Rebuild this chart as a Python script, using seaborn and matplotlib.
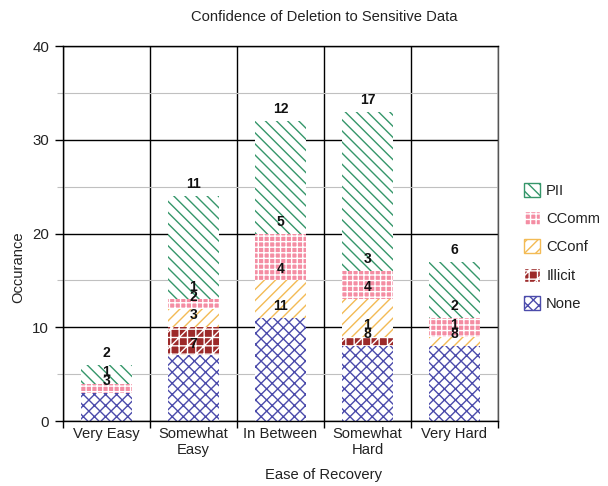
import numpy as np
import matplotlib
matplotlib.use("Agg")
import matplotlib.pyplot as plt
from matplotlib.patches import Patch
from matplotlib.ticker import MultipleLocator, FixedLocator
import seaborn as sns

categories = ["Very Easy", "Somewhat\nEasy", "In Between", "Somewhat\nHard", "Very Hard"]
none_vals = [3, 7, 11, 8, 8]
illicit_vals = [0, 3, 0, 1, 0]
cconf_vals = [0, 2, 4, 4, 1]
ccomm_vals = [1, 1, 5, 3, 2]
pii_vals = [2, 11, 12, 17, 6]

series = ["None", "Illicit", "CConf", "CComm", "PII"]
valores = [none_vals, illicit_vals, cconf_vals, ccomm_vals, pii_vals]

# face, hatch colour, hatch
estilos = {
    "None": ("white", "#4b4bab", "xxx"),
    "Illicit": ("#9c2a2a", "white", "++//"),
    "CConf": ("white", "#f3bb55", "///"),
    "CComm": ("#f48da3", "white", "+++"),
    "PII": ("white", "#35966a", "\\\\\\"),
}

sns.set_theme(style="white")
plt.rcParams["font.family"] = ["Liberation Sans", "DejaVu Sans"]
plt.rcParams["hatch.linewidth"] = 1.0

fig = plt.figure(figsize=(6.08, 4.86), dpi=100)
ax = fig.add_axes([0.1036, 0.1337, 0.7154, 0.7716])

acumulado = np.cumsum(np.array(valores), axis=0)

# stacked look: draw cumulative heights from the top series down, opaque faces
for k in range(len(series) - 1, -1, -1):
    face, cor, hatch = estilos[series[k]]
    sns.barplot(
        x=categories,
        y=acumulado[k],
        ax=ax,
        order=categories,
        width=0.59,
        saturation=1,
        errorbar=None,
        facecolor=face,
        edgecolor=cor,
        hatch=hatch,
        linewidth=0,
    )

for k, vals in enumerate(valores):
    for i, v in enumerate(vals):
        if v > 0:
            ax.annotate(str(v), (i, acumulado[k][i]), xytext=(0, 3.5), textcoords="offset points",
                        ha="center", va="bottom", fontsize=10, fontweight="bold",
                        color="#111111", zorder=5)

ax.set_xlim(-0.5, len(categories) - 0.5)
ax.set_ylim(0, 40)
ax.yaxis.set_major_locator(MultipleLocator(10))
ax.yaxis.set_minor_locator(MultipleLocator(5))
ax.xaxis.set_minor_locator(FixedLocator(np.arange(-0.5, len(categories), 1.0)))

ax.set_axisbelow(True)
ax.grid(True, which="major", axis="y", color="black", linewidth=1)
ax.grid(True, which="minor", axis="y", color="#c0c0c0", linewidth=0.8)
ax.grid(True, which="minor", axis="x", color="black", linewidth=1)
ax.grid(False, which="major", axis="x")

ax.tick_params(axis="x", which="major", length=0, pad=4, labelsize=10.6, colors="#222222")
ax.tick_params(axis="x", which="minor", length=5, width=1, color="black", bottom=True)
ax.tick_params(axis="y", which="major", length=6, width=1, color="black", pad=4,
               labelsize=10.8, left=True, labelcolor="#222222")
ax.tick_params(axis="y", which="minor", length=4, width=0.8, color="#c0c0c0", left=True)

for lado in ["left", "bottom", "top"]:
    ax.spines[lado].set_color("black")
    ax.spines[lado].set_linewidth(1)
ax.spines["right"].set_color("#555555")
ax.spines["right"].set_linewidth(1)

ax.set_xlabel("Ease of Recovery", fontsize=10.6, color="#222222")
ax.set_ylabel("Occurance", fontsize=10.6, color="#222222")
ax.xaxis.set_label_coords(0.6, -0.125)
ax.yaxis.set_label_coords(-0.086, 0.41)

fig.text(0.533, 0.957, "Confidence of Deletion to Sensitive Data", ha="center",
         va="baseline", fontsize=10.6, color="#222222")

handles = []
for nome in reversed(series):
    face, cor, hatch = estilos[nome]
    handles.append(Patch(facecolor=face, edgecolor=cor, hatch=hatch, linewidth=1, label=nome))
leg = ax.legend(handles=handles, loc="center left", bbox_to_anchor=(0.862, 0.492),
                bbox_transform=fig.transFigure, frameon=False, fontsize=10.6,
                handlelength=1.1, handleheight=1.1, handletextpad=0.4,
                labelspacing=0.9, borderpad=0, borderaxespad=0)
for t in leg.get_texts():
    t.set_color("#222222")

fig.savefig("out.png", dpi=100)
